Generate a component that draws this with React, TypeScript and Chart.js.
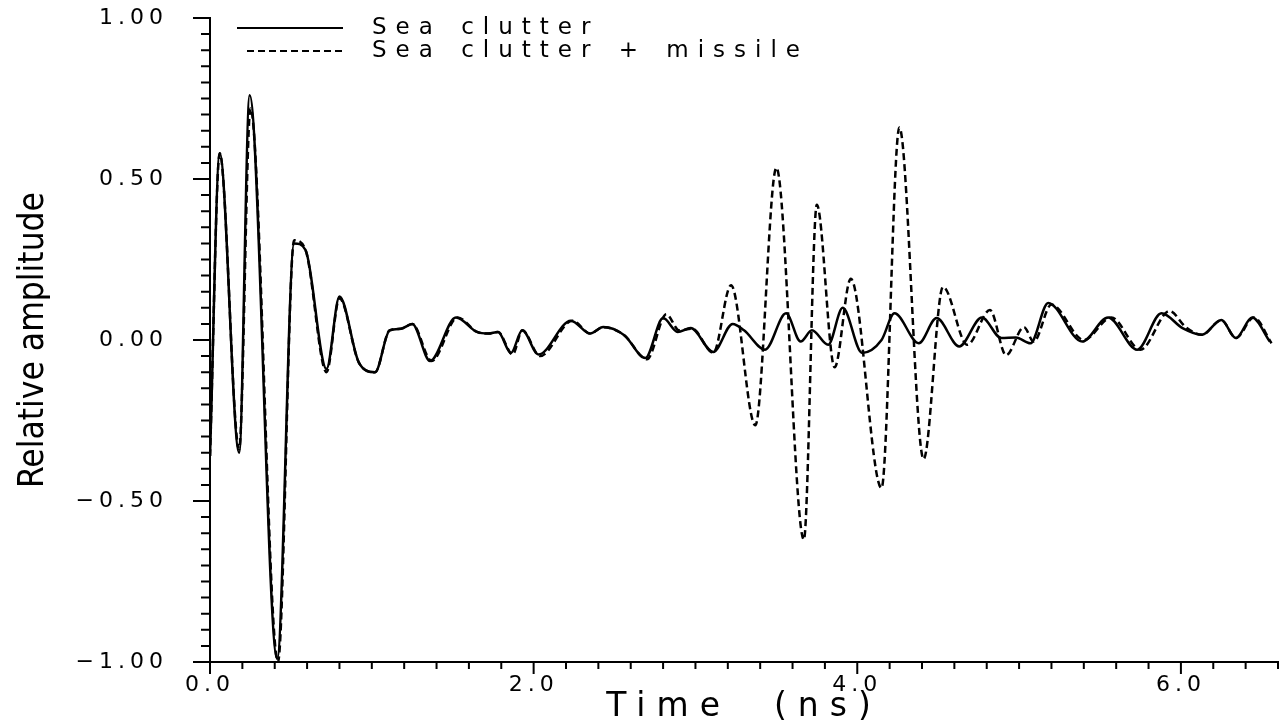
import React, { useEffect, useRef } from "react";
import { Chart, registerables } from "chart.js";

Chart.register(...registerables);

// ---- Data ----
const clutterTime = [
  0.0, 0.06, 0.18, 0.245, 0.415, 0.52, 0.59, 0.72, 0.8, 0.92, 1.02, 1.11, 1.18, 1.25, 1.36, 1.52,
  1.65, 1.72, 1.78, 1.86, 1.93, 2.03, 2.23, 2.35, 2.43, 2.56, 2.69, 2.8, 2.89, 2.97, 3.11, 3.23,
  3.3, 3.43, 3.56, 3.65, 3.72, 3.82, 3.91, 4.03, 4.15, 4.23, 4.38, 4.49, 4.63, 4.77, 4.89, 4.98,
  5.07, 5.18, 5.39, 5.55, 5.73, 5.88, 6.01, 6.13, 6.25, 6.34, 6.44, 6.55,
];
const clutterAmp = [
  -0.36, 0.58, -0.35, 0.76, -0.99, 0.3, 0.28, -0.09, 0.135, -0.07, -0.1, 0.03, 0.035, 0.05, -0.065, 0.07,
  0.025, 0.02, 0.025, -0.04, 0.03, -0.045, 0.06, 0.02, 0.04, 0.015, -0.056, 0.068, 0.025, 0.037, -0.037, 0.05,
  0.03, -0.03, 0.083, -0.005, 0.03, -0.015, 0.1, -0.04, 0.0, 0.083, -0.01, 0.068, -0.02, 0.07, 0.006, 0.008,
  -0.01, 0.115, -0.005, 0.07, -0.03, 0.083, 0.037, 0.016, 0.062, 0.006, 0.07, -0.005,
];
const missileTime = [
  0.0, 0.06, 0.18, 0.25, 0.42, 0.52, 0.59, 0.72, 0.8, 0.92, 1.02, 1.11, 1.18, 1.25, 1.37, 1.53,
  1.65, 1.72, 1.78, 1.87, 1.93, 2.04, 2.24, 2.35, 2.43, 2.56, 2.7, 2.82, 2.9, 2.98, 3.11, 3.22,
  3.37, 3.5, 3.67, 3.75, 3.86, 3.96, 4.15, 4.26, 4.41, 4.53, 4.68, 4.82, 4.92, 5.03, 5.09, 5.2,
  5.4, 5.57, 5.75, 5.93, 6.03, 6.13, 6.25, 6.34, 6.45, 6.56,
];
const missileAmp = [
  -0.36, 0.58, -0.34, 0.72, -1.0, 0.31, 0.28, -0.1, 0.13, -0.07, -0.1, 0.03, 0.035, 0.05, -0.065, 0.07,
  0.025, 0.02, 0.025, -0.045, 0.03, -0.05, 0.06, 0.02, 0.04, 0.015, -0.06, 0.08, 0.03, 0.035, -0.04, 0.17,
  -0.265, 0.535, -0.62, 0.42, -0.085, 0.19, -0.46, 0.66, -0.37, 0.165, -0.015, 0.093, -0.047, 0.04, -0.005, 0.11,
  0.0, 0.07, -0.03, 0.09, 0.04, 0.016, 0.062, 0.006, 0.07, -0.01,
];

const xTickValues = [0, 2, 4, 6];
const yTickValues = [-1, -0.5, 0, 0.5, 1];
const seriesLabels = ["Sea clutter", "Sea clutter + missile"];
const xTitle = "Time  (ns)";
const yTitle = "Relative amplitude";

const FONT = '"DejaVu Sans", sans-serif';
const COND_FONT = '"DejaVu Sans Condensed", "Liberation Sans Narrow", "DejaVu Sans", sans-serif';

const isIn = (v: number, list: number[]) => list.some((t) => Math.abs(t - v) < 1e-6);

const fmtY = (v: number) => (v < 0 ? "\u2212" : "") + Math.abs(v).toFixed(2);

function spaced(scale: any, labelSp: string, titleSp: string) {
  if (scale.__spaced) return;
  scale.__spaced = true;
  const dl = scale.drawLabels.bind(scale);
  scale.drawLabels = (...a: any[]) => {
    const c = scale.ctx;
    c.save();
    c.letterSpacing = labelSp;
    dl(...a);
    c.restore();
  };
  const dt = scale.drawTitle.bind(scale);
  scale.drawTitle = (...a: any[]) => {
    const c = scale.ctx;
    c.save();
    c.letterSpacing = titleSp;
    dt(...a);
    c.restore();
  };
}

const tickPlugin = {
  id: "tickMarks",
  afterDraw(chart: any) {
    const ctx = chart.ctx;
    const xs = chart.scales.x;
    const ys = chart.scales.y;
    ctx.save();
    ctx.strokeStyle = "#000";
    ctx.lineWidth = 2;
    ctx.beginPath();
    xs.ticks.forEach((t: any) => {
      const px = xs.getPixelForValue(t.value);
      const len = isIn(t.value, xTickValues) ? 12 : 7;
      ctx.moveTo(px, xs.top);
      ctx.lineTo(px, xs.top + len);
    });
    ys.ticks.forEach((t: any) => {
      const py = ys.getPixelForValue(t.value);
      const len = isIn(t.value, yTickValues) ? 17 : 9;
      ctx.moveTo(ys.right, py);
      ctx.lineTo(ys.right - len, py);
    });
    ctx.stroke();
    ctx.restore();
  },
};

const legendPlugin = {
  id: "insideLegend",
  afterDatasetsDraw(chart: any) {
    const ctx = chart.ctx;
    const ca = chart.chartArea;
    ctx.save();
    ctx.font = `23px ${FONT}`;
    ctx.letterSpacing = "9px";
    ctx.wordSpacing = "3px";
    ctx.fillStyle = "#000";
    ctx.textBaseline = "middle";
    ctx.textAlign = "left";
    chart.data.datasets.forEach((ds: any, i: number) => {
      const y = ca.top + 10 + i * 23;
      ctx.strokeStyle = "#000";
      ctx.lineWidth = 2;
      ctx.setLineDash(ds.borderDash || []);
      ctx.beginPath();
      ctx.moveTo(ca.left + (ds.borderDash ? 37 : 27), y);
      ctx.lineTo(ca.left + 133, y);
      ctx.stroke();
      ctx.setLineDash([]);
      ctx.fillText(ds.label, ca.left + 162, y);
    });
    ctx.restore();
  },
};

export default function App() {
  const ref = useRef<HTMLCanvasElement | null>(null);

  useEffect(() => {
    if (!ref.current) return;
    const chart = new Chart(ref.current, {
      type: "line",
      data: {
        datasets: [
          {
            label: seriesLabels[0],
            data: clutterTime.map((t, i) => ({ x: t, y: clutterAmp[i] })),
            borderColor: "#000",
            borderWidth: 2.5,
            pointRadius: 0,
            cubicInterpolationMode: "monotone",
            fill: false,
          },
          {
            label: seriesLabels[1],
            data: missileTime.map((t, i) => ({ x: t, y: missileAmp[i] })),
            borderColor: "#000",
            borderWidth: 2.5,
            borderDash: [7, 4],
            pointRadius: 0,
            cubicInterpolationMode: "monotone",
            fill: false,
          },
        ],
      },
      options: {
        animation: false,
        responsive: true,
        maintainAspectRatio: false,
        layout: { padding: { top: 18, right: 8, bottom: 0, left: 0 } },
        plugins: {
          legend: { display: false },
          tooltip: { enabled: false },
        },
        scales: {
          x: {
            type: "linear",
            min: 0,
            max: 6.6,
            grid: { display: false, drawTicks: false },
            border: { display: true, color: "#000", width: 2 },
            ticks: {
              stepSize: 0.2,
              autoSkip: false,
              maxRotation: 0,
              padding: 10,
              color: "#000",
              font: { family: FONT, size: 22 },
              callback: (v: any) => (isIn(Number(v), xTickValues) ? Number(v).toFixed(1) : ""),
            },
            title: {
              display: true,
              text: xTitle,
              color: "#000",
              font: { family: FONT, size: 33 },
              padding: { top: 0, bottom: 0 },
            },
            afterFit: (s: any) => {
              s.height = 65;
              s.paddingLeft = 0;
              s.paddingRight = 0;
              spaced(s, "5px", "11px");
            },
          },
          y: {
            type: "linear",
            min: -1,
            max: 1,
            grid: { display: false, drawTicks: false },
            border: { display: true, color: "#000", width: 2 },
            ticks: {
              stepSize: 0.05,
              autoSkip: false,
              padding: 42,
              color: "#000",
              font: { family: FONT, size: 22 },
              callback: (v: any) => (isIn(Number(v), yTickValues) ? fmtY(Number(v)) : ""),
            },
            title: {
              display: true,
              text: yTitle,
              color: "#000",
              font: { family: COND_FONT, size: 35 },
              padding: { top: 13, bottom: 0 },
            },
            afterFit: (s: any) => {
              s.width = 210;
              s.paddingTop = 0;
              s.paddingBottom = 0;
              spaced(s, "5px", "0px");
            },
          },
        },
      } as any,
      plugins: [tickPlugin, legendPlugin],
    });
    return () => chart.destroy();
  }, []);

  return (
    <div style={{ position: "fixed", left: 0, top: 0, width: 1286, height: 727, background: "#fff" }}>
      <canvas ref={ref} />
    </div>
  );
}
